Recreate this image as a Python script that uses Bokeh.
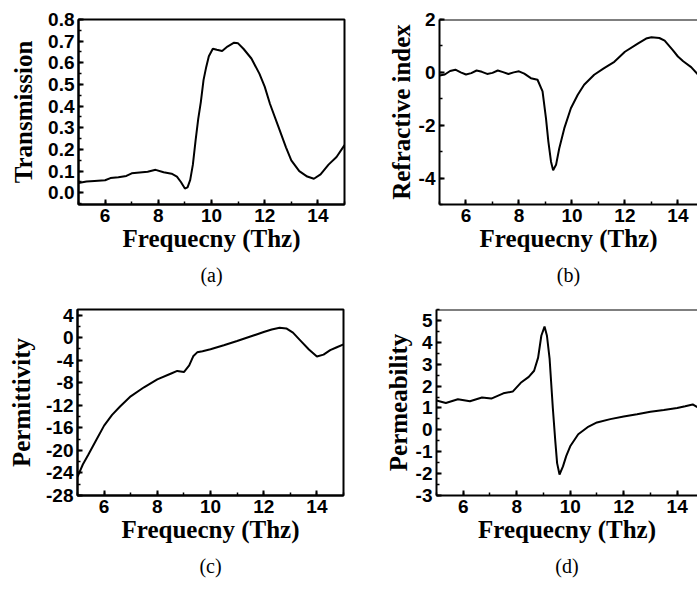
from bokeh.plotting import figure
from bokeh.layouts import column, row
from bokeh.models import SingleIntervalTicker, Title, Span, Range1d, NumeralTickFormatter
from bokeh.embed import file_html
from bokeh.resources import INLINE

X_LABEL = "Frequecny (Thz)"

# (a) Transmission
freq_a = [5.0, 5.3, 5.6, 6.0, 6.2, 6.5, 6.8, 7.0, 7.3, 7.6, 7.9, 8.2, 8.5, 8.7, 8.85, 9.0, 9.1, 9.2,
          9.3, 9.4, 9.5, 9.6, 9.7, 9.8, 9.9, 10.05, 10.2, 10.4, 10.6, 10.85, 11.0, 11.2, 11.5, 11.8,
          12.0, 12.2, 12.5, 12.8, 13.0, 13.3, 13.6, 13.85, 14.1, 14.4, 14.7, 15.0]
transmission = [0.045, 0.052, 0.055, 0.058, 0.068, 0.072, 0.078, 0.09, 0.094, 0.097, 0.106, 0.095,
                0.088, 0.075, 0.05, 0.02, 0.025, 0.06, 0.13, 0.24, 0.34, 0.42, 0.52, 0.58, 0.63,
                0.665, 0.66, 0.655, 0.675, 0.693, 0.69, 0.665, 0.62, 0.55, 0.49, 0.41, 0.31, 0.21,
                0.15, 0.1, 0.075, 0.065, 0.085, 0.13, 0.165, 0.22]

# (b) Refractive index
freq_b = [5.0, 5.2, 5.4, 5.6, 5.8, 6.0, 6.2, 6.4, 6.6, 6.8, 7.0, 7.2, 7.4, 7.6, 7.8, 8.0, 8.2, 8.45,
          8.7, 8.89, 9.02, 9.11, 9.21, 9.29, 9.4, 9.52, 9.71, 9.96, 10.22, 10.46, 10.84, 11.2, 11.6,
          12.0, 12.5, 12.8, 13.0, 13.3, 13.5, 13.8, 14.0, 14.2, 14.5, 14.75]
refractive_index = [-0.12, -0.08, 0.05, 0.1, 0.0, -0.08, -0.03, 0.07, 0.02, -0.06, -0.02, 0.07, 0.01,
                    -0.06, 0.0, 0.04, -0.05, -0.22, -0.28, -0.72, -1.74, -2.62, -3.38, -3.7, -3.5,
                    -2.88, -2.12, -1.36, -0.85, -0.47, -0.09, 0.15, 0.4, 0.78, 1.1, 1.28, 1.33, 1.3,
                    1.2, 0.85, 0.6, 0.42, 0.2, -0.08]

# (c) Permittivity
freq_c = [5.0, 5.2, 5.4, 5.7, 6.0, 6.3, 6.6, 7.0, 7.5, 8.0, 8.5, 8.75, 9.0, 9.2, 9.35, 9.5, 9.7, 10.0,
          10.5, 11.0, 11.5, 12.0, 12.3, 12.6, 12.85, 13.1, 13.4, 13.7, 14.0, 14.25, 14.5, 14.75, 15.0]
permittivity = [-24.7, -22.5, -20.8, -18.2, -15.6, -13.7, -12.2, -10.4, -8.8, -7.4, -6.4, -5.9, -6.1,
                -4.9, -3.3, -2.6, -2.4, -2.05, -1.35, -0.6, 0.2, 1.0, 1.45, 1.75, 1.65, 0.9, -0.6,
                -2.1, -3.35, -3.0, -2.2, -1.7, -1.2]

# (d) Permeability
freq_d = [5.0, 5.35, 5.8, 6.25, 6.7, 7.05, 7.5, 7.85, 8.15, 8.45, 8.65, 8.8, 8.92, 9.04, 9.13, 9.23,
          9.35, 9.44, 9.51, 9.6, 9.73, 9.85, 10.0, 10.3, 10.65, 11.0, 11.5, 12.0, 12.5, 13.0, 13.5,
          14.0, 14.3, 14.58, 14.75]
permeability = [1.34, 1.23, 1.4, 1.31, 1.48, 1.43, 1.67, 1.75, 2.15, 2.42, 2.7, 3.3, 4.3, 4.72, 4.3,
                3.24, 1.0, -0.48, -1.52, -2.04, -1.67, -1.2, -0.75, -0.2, 0.12, 0.34, 0.49, 0.61,
                0.71, 0.83, 0.91, 1.0, 1.08, 1.16, 1.04]


def make_panel(x, y, xr, yr, ytick, ylabel, caption, width, height, bl, br, bt, bb,
               full_frame=True, yfmt="0", ylabel_standoff=8):
    p = figure(width=width, height=height, x_range=Range1d(*xr), y_range=Range1d(*yr),
               output_backend="svg", toolbar_location=None,
               min_border_left=bl, min_border_right=br, min_border_top=bt, min_border_bottom=bb)
    p.line(x, y, line_color="black", line_width=2)
    p.grid.visible = False
    p.xaxis.ticker = SingleIntervalTicker(interval=2, num_minor_ticks=2)
    p.yaxis.ticker = SingleIntervalTicker(interval=ytick, num_minor_ticks=2)
    p.xaxis.formatter = NumeralTickFormatter(format="0")
    p.yaxis.formatter = NumeralTickFormatter(format=yfmt)
    for ax in (p.xaxis[0], p.yaxis[0]):
        ax.axis_line_width = 2
        ax.axis_line_color = "black"
        ax.major_tick_in = 5
        ax.major_tick_out = 0
        ax.minor_tick_in = 3
        ax.minor_tick_out = 0
        ax.major_tick_line_width = 2
        ax.minor_tick_line_width = 1.5
        ax.major_label_text_font = "Liberation Sans"
        ax.major_label_text_font_size = "19px"
        ax.major_label_text_font_style = "bold"
        ax.major_label_text_color = "black"
        ax.axis_label_text_font = "Liberation Serif"
        ax.axis_label_text_font_size = "25px"
        ax.axis_label_text_font_style = "bold"
        ax.axis_label_text_color = "black"
        ax.major_label_standoff = 4
    p.xaxis.axis_label_standoff = 0
    p.yaxis.axis_label_standoff = ylabel_standoff
    p.xaxis.axis_label = X_LABEL
    p.yaxis.axis_label = ylabel
    if full_frame:
        p.outline_line_color = "black"
        p.outline_line_width = 2
        p.outline_line_alpha = 1
    else:
        p.outline_line_color = None
        p.add_layout(Span(location=yr[1], dimension="width", line_color="black", line_width=2))
    p.add_layout(Title(text=caption, align="center", text_font="Liberation Serif",
                       text_font_size="20px", text_font_style="normal", text_color="black",
                       standoff=14), "below")
    return p


pa = make_panel(freq_a, transmission, (5, 15), (-0.054, 0.8), 0.1, "Transmission", "(a)",
                355, 298, 78, 11, 17, 91, True, "0.0", 8)
pb = make_panel(freq_b, refractive_index, (5, 14.74), (-5, 2), 2, "Refractive index", "(b)",
                342, 298, 84, 0, 19, 94, False, "0", 1)
pc = make_panel(freq_c, permittivity, (5, 15), (-28, 5), 4, "Permittivity", "(c)",
                355, 285, 77, 12, 11, 85, True, "0", 8)
pd = make_panel(freq_d, permeability, (5, 14.76), (-3, 5.5), 1, "Permeability", "(d)",
                342, 285, 81, 0, 8, 88, False, "0", 1)

layout = column(row(pa, pb), row(pc, pd))
open("out.html", "w").write(file_html(layout, INLINE))
